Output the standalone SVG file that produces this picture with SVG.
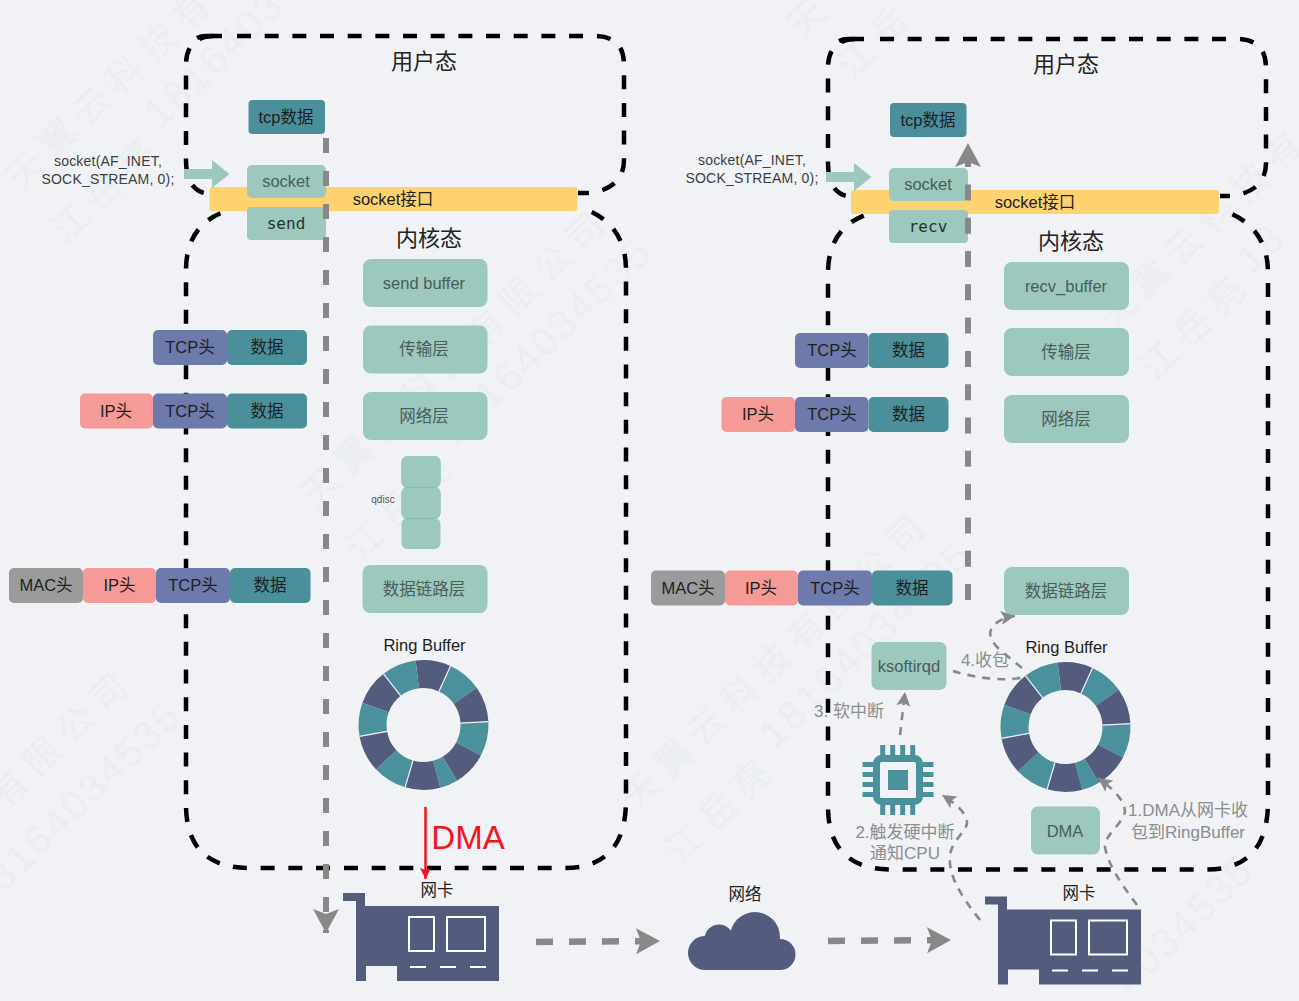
<svg xmlns="http://www.w3.org/2000/svg" width="1299" height="1001" viewBox="0 0 1299 1001">
<style>
text{font-family:"Liberation Sans","Noto Sans CJK SC",sans-serif;text-anchor:middle;fill:#1c1f22;font-size:16.5px}
.wm{font-family:"Noto Sans CJK SC",sans-serif;fill:#ebedf0;text-anchor:start;font-size:36px;letter-spacing:10px}
.wn{font-family:"Liberation Sans",sans-serif;fill:#ebedf0;text-anchor:start;font-size:40px;letter-spacing:3px}
.g{fill:#9cc8be}.gt{fill:#4a5d5a}
.d{fill:#4b8f9a}.t{fill:#6e7aab}.i{fill:#f59a96}.m{fill:#9b9b9b}.y{fill:#fdd26f}
.h{font-size:22px;fill:#222}
.mono{font-family:"DejaVu Sans Mono",monospace;fill:#26312f;font-size:16px}
.box{fill:none;stroke:#000;stroke-width:4.5;stroke-dasharray:14 13.67}
.gv{fill:none;stroke:#888;stroke-width:6;stroke-dasharray:15 18}
.gu{fill:none;stroke:#888;stroke-width:6;stroke-dasharray:16 17.300}
.gh{fill:none;stroke:#888;stroke-width:6.500;stroke-dasharray:17 16}
.th{fill:none;stroke:#888;stroke-width:2.600;stroke-dasharray:8 7}
.lb{fill:#8b8d8f;font-size:17px}
.api{font-size:14px;letter-spacing:.2px;fill:#3c3f42}
.nic{fill:#545c7e}
.nw{fill:none;stroke:#fff;stroke-width:2}
.dk{fill:#545c7e}
.tl{fill:#4b919b}
.sep{stroke:#eef1f3;stroke-width:1.200}
</style>
<defs>
<marker id="hg" markerUnits="userSpaceOnUse" markerWidth="26" markerHeight="28" refX="24" refY="14" orient="auto"><path d="M0 1L24 14L0 27L5 14Z" fill="#888"/></marker>
<marker id="ht" markerUnits="userSpaceOnUse" markerWidth="16" markerHeight="16" refX="14" refY="8" orient="auto"><path d="M0 1L14 8L0 15L3 8Z" fill="#888"/></marker>
<marker id="hr" markerUnits="userSpaceOnUse" markerWidth="12" markerHeight="12" refX="11" refY="6" orient="auto"><path d="M0 .5L11 6L0 11.5L2 6Z" fill="#f0141e"/></marker>
<g id="ringshape">
<path class="dk" d="M-7.900-64.500A65 65 0 0 1 27-59.100L15.400-33.600A37 37 0 0 0-4.500-36.700Z"/>
<path class="tl" d="M27-59.100A65 65 0 0 1 53.200-37.300L30.300-21.200A37 37 0 0 0 15.400-33.600Z"/>
<path class="dk" d="M53.200-37.300A65 65 0 0 1 64.900-3.400L37-1.900A37 37 0 0 0 30.300-21.200Z"/>
<path class="tl" d="M64.900-3.400A65 65 0 0 1 57.400 30.500L32.700 17.400A37 37 0 0 0 37-1.900Z"/>
<path class="dk" d="M57.400 30.500A65 65 0 0 1 33.500 55.700L19.100 31.700A37 37 0 0 0 32.700 17.400Z"/>
<path class="tl" d="M33.500 55.700A65 65 0 0 1 16.800 62.800L9.600 35.700A37 37 0 0 0 19.100 31.700Z"/>
<path class="dk" d="M16.800 62.800A65 65 0 0 1-18.400 62.300L-10.500 35.500A37 37 0 0 0 9.600 35.700Z"/>
<path class="tl" d="M-18.400 62.300A65 65 0 0 1-47.500 44.300L-27.100 25.200A37 37 0 0 0-10.500 35.500Z"/>
<path class="dk" d="M-47.500 44.300A65 65 0 0 1-64 11.300L-36.400 6.400A37 37 0 0 0-27.100 25.200Z"/>
<path class="tl" d="M-64 11.300A65 65 0 0 1-61.100-22.200L-34.800-12.700A37 37 0 0 0-36.400 6.400Z"/>
<path class="dk" d="M-61.100-22.200A65 65 0 0 1-40-51.200L-22.800-29.200A37 37 0 0 0-34.800-12.700Z"/>
<path class="tl" d="M-40-51.200A65 65 0 0 1-7.900-64.500L-4.500-36.700A37 37 0 0 0-22.800-29.200Z"/>
<path class="sep" d="M27-59.100L15.400-33.600M64.900-3.400L37-1.900M-18.400 62.300L-10.500 35.500M-40-51.200L-22.800-29.200M-64 11.300L-36.400 6.400"/>
</g>
<g id="nicshape">
<path class="nic" d="M343 893H365V906H499V981H397V966H366V981H356V901H343Z"/>
<rect class="nw" x="409" y="917" width="25" height="34"/>
<rect class="nw" x="447" y="917" width="38" height="34"/>
<path class="nw" d="M410 967H426M440 967H456M470 967H486"/>
</g>
</defs>
<rect width="1299" height="1001" fill="#f0f2f5"/>
<g id="watermark">
<text class="wm" transform="translate(21 192) rotate(-44)">天翼云科技有</text>
<text class="wm" transform="translate(66 245) rotate(-44)">江岳亮</text>
<text class="wn" transform="translate(160 130) rotate(-44)">1816403</text>
<text class="wm" transform="translate(316 509) rotate(-44)">天翼云科技有限公司</text>
<text class="wm" transform="translate(361 562) rotate(-44)">江岳亮</text>
<text class="wn" transform="translate(455 447) rotate(-44)">18164034535</text>
<text class="wm" transform="translate(636 812) rotate(-44)">天翼云科技有限公司</text>
<text class="wm" transform="translate(681 865) rotate(-44)">江岳亮</text>
<text class="wn" transform="translate(775 750) rotate(-44)">18164034535</text>
<text class="wm" transform="translate(802 40) rotate(-44)">天</text>
<text class="wm" transform="translate(852 80) rotate(-44)">江岳</text>
<text class="wm" transform="translate(1113 332) rotate(-44)">天翼云科技有</text>
<text class="wm" transform="translate(1155 382) rotate(-44)">江岳亮</text>
<text class="wn" transform="translate(1252 275) rotate(-44)">18</text>
<text class="wm" transform="translate(5 810) rotate(-44)">有限公司</text>
<text class="wn" transform="translate(3 893) rotate(-44)">8164034535</text>
<text class="wn" transform="translate(1130 995) rotate(-44)">4034535</text>
</g>
<g id="region-boxes">
<path class="box" d="M237 36H595Q624 36 624 65V160Q624 188 590 193H578"/>
<path class="box" style="stroke-dasharray:none" d="M222 36H206Q201 36 197 38"/>
<path class="box" d="M222 36H215Q186 36 186 65V160Q186 188 204 193" stroke-dashoffset="18.670"/>
<path class="box" d="M344 868H565Q626 868 626 800V270Q626 225 585 209"/>
<path class="box" d="M330 868H250Q186 868 186 805V270Q186 225 226 211"/>
<path class="box" d="M880 39H1237Q1266 39 1266 68V163Q1266 191 1232 196H1220"/>
<path class="box" style="stroke-dasharray:none" d="M864 39H848Q843 39 839 41"/>
<path class="box" d="M864 39H857Q828 39 828 68V163Q828 191 846 196" stroke-dashoffset="18.670"/>
<path class="box" d="M986 869.500H1207Q1268 869.500 1268 801.500V273Q1268 228 1227 212"/>
<path class="box" d="M972 869.500H892Q828 869.500 828 806.500V273Q828 228 868 214"/>
</g>
<g id="label-user-left"><text class="h" x="424" y="69">用户态</text></g>
<g id="label-user-right"><text class="h" x="1066" y="72">用户态</text></g>
<g id="socket-bar-left"><rect class="y" x="209.500" y="187" width="368" height="24" rx="3"/><text x="393" y="205">socket接口</text></g>
<g id="socket-bar-right"><rect class="y" x="851" y="190" width="368" height="24" rx="3"/><text x="1035" y="208">socket接口</text></g>
<g id="label-kernel-left"><text class="h" x="429" y="246">内核态</text></g>
<g id="label-kernel-right"><text class="h" x="1071" y="249">内核态</text></g>
<g id="tcpdata-left"><rect class="d" x="248.500" y="100" width="76.500" height="34" rx="4"/><text x="286" y="123">tcp数据</text></g>
<g id="socket-left"><rect class="g" x="247" y="165" width="79" height="33" rx="5"/><text class="gt" x="286" y="187">socket</text></g>
<g id="send-left"><rect class="g" x="247" y="207" width="79" height="33" rx="4"/><text class="mono" x="286" y="229">send</text></g>
<g id="tcpdata-right"><rect class="d" x="890" y="103" width="76.500" height="34" rx="4"/><text x="928" y="126">tcp数据</text></g>
<g id="socket-right"><rect class="g" x="889" y="168" width="79" height="33" rx="5"/><text class="gt" x="928" y="190">socket</text></g>
<g id="recv-right"><rect class="g" x="889" y="210" width="79" height="33" rx="4"/><text class="mono" x="928" y="232">recv</text></g>
<g id="sendbuffer"><rect class="g" x="363" y="259" width="124.500" height="48" rx="8"/><text class="gt" x="424" y="289">send buffer</text></g>
<g id="transport-left"><rect class="g" x="363" y="325.500" width="124.500" height="48" rx="8"/><text class="gt" x="424" y="355">传输层</text></g>
<g id="network-left"><rect class="g" x="363" y="392" width="124.500" height="48" rx="8"/><text class="gt" x="424" y="422">网络层</text></g>
<g id="qdisc">
<rect class="g" x="401.500" y="518" width="39" height="31" rx="6"/>
<rect x="401.500" y="487" width="39" height="32" rx="6" fill="#86baae"/>
<rect class="g" x="401.500" y="487" width="39" height="31" rx="6"/>
<rect x="401.500" y="456" width="39" height="32" rx="6" fill="#86baae"/>
<rect class="g" x="401.500" y="456" width="39" height="31" rx="6"/>
<text x="383" y="503" style="font-size:10px;fill:#555">qdisc</text>
</g>
<g id="link-left"><rect class="g" x="362.500" y="565" width="125" height="48" rx="8"/><text class="gt" x="424" y="595">数据链路层</text></g>
<g id="recvbuffer"><rect class="g" x="1004" y="262" width="125" height="48" rx="8"/><text class="gt" x="1066" y="292">recv_buffer</text></g>
<g id="transport-right"><rect class="g" x="1004" y="328" width="125" height="48" rx="8"/><text class="gt" x="1066" y="358">传输层</text></g>
<g id="network-right"><rect class="g" x="1004" y="395" width="125" height="48" rx="8"/><text class="gt" x="1066" y="425">网络层</text></g>
<g id="link-right"><rect class="g" x="1004" y="567" width="125" height="48" rx="8"/><text class="gt" x="1066" y="597">数据链路层</text></g>
<g id="ksoftirqd"><rect class="g" x="871.500" y="642" width="75" height="48" rx="7"/><text class="gt" x="909" y="672">ksoftirqd</text></g>
<g id="dma-box"><rect class="g" x="1031" y="806.500" width="69" height="48" rx="7"/><text class="gt" x="1065" y="837">DMA</text></g>
<g id="hdr-tcp-l1"><rect class="t" x="153" y="330" width="74" height="35" rx="5"/><text x="190" y="353">TCP头</text></g>
<g id="hdr-data-l1"><rect class="d" x="227" y="330" width="80" height="35" rx="5"/><text x="267" y="353">数据</text></g>
<g id="hdr-ip-l2"><rect class="i" x="80" y="393.500" width="73" height="35" rx="5"/><text x="116" y="417">IP头</text></g>
<g id="hdr-tcp-l2"><rect class="t" x="153" y="393.500" width="74" height="35" rx="5"/><text x="190" y="417">TCP头</text></g>
<g id="hdr-data-l2"><rect class="d" x="227" y="393.500" width="80" height="35" rx="5"/><text x="267" y="417">数据</text></g>
<g id="hdr-mac-l3"><rect class="m" x="9" y="568" width="74" height="35" rx="5"/><text x="46" y="591">MAC头</text></g>
<g id="hdr-ip-l3"><rect class="i" x="83" y="568" width="73" height="35" rx="5"/><text x="119.500" y="591">IP头</text></g>
<g id="hdr-tcp-l3"><rect class="t" x="156" y="568" width="74" height="35" rx="5"/><text x="193" y="591">TCP头</text></g>
<g id="hdr-data-l3"><rect class="d" x="230" y="568" width="80.500" height="35" rx="5"/><text x="270" y="591">数据</text></g>
<g id="hdr-tcp-r1"><rect class="t" x="795" y="333" width="73.500" height="35" rx="5"/><text x="832" y="356">TCP头</text></g>
<g id="hdr-data-r1"><rect class="d" x="868.500" y="333" width="80" height="35" rx="5"/><text x="908.500" y="356">数据</text></g>
<g id="hdr-ip-r2"><rect class="i" x="721.500" y="397" width="73.500" height="35" rx="5"/><text x="758" y="420">IP头</text></g>
<g id="hdr-tcp-r2"><rect class="t" x="795" y="397" width="73.500" height="35" rx="5"/><text x="832" y="420">TCP头</text></g>
<g id="hdr-data-r2"><rect class="d" x="868.500" y="397" width="80" height="35" rx="5"/><text x="908.500" y="420">数据</text></g>
<g id="hdr-mac-r3"><rect class="m" x="651" y="570.500" width="74" height="35" rx="5"/><text x="688" y="594">MAC头</text></g>
<g id="hdr-ip-r3"><rect class="i" x="725" y="570.500" width="73" height="35" rx="5"/><text x="761" y="594">IP头</text></g>
<g id="hdr-tcp-r3"><rect class="t" x="798" y="570.500" width="74" height="35" rx="5"/><text x="835" y="594">TCP头</text></g>
<g id="hdr-data-r3"><rect class="d" x="872" y="570.500" width="80.500" height="35" rx="5"/><text x="912" y="594">数据</text></g>
<g id="api-left"><text class="api" x="108" y="166">socket(AF_INET,</text><text class="api" x="108" y="184">SOCK_STREAM, 0);</text></g>
<g id="api-right"><text class="api" x="752" y="165">socket(AF_INET,</text><text class="api" x="752" y="183">SOCK_STREAM, 0);</text></g>
<g id="api-arrow-left"><path d="M184 169H212V160L229.500 174L212 188V179H184Z" fill="#9cc8be"/></g>
<g id="api-arrow-right"><path d="M826 172H854V163L871.500 177L854 191V182H826Z" fill="#9cc8be"/></g>
<g id="ring-left"><text x="424.500" y="651">Ring Buffer</text><use href="#ringshape" transform="translate(423.500 725)"/></g>
<g id="ring-right"><text x="1066.500" y="653">Ring Buffer</text><use href="#ringshape" transform="translate(1065.500 727)"/></g>
<g id="cpu" fill="#4b919b">
<rect x="876.500" y="758.500" width="43" height="43" rx="5" fill="none" stroke="#4b919b" stroke-width="7"/>
<rect x="888" y="770" width="20" height="20"/>
<path d="M882.700 745v12M892.700 745v12M902.700 745v12M912.700 745v12M882.700 803v12M892.700 803v12M902.700 803v12M912.700 803v12M862.500 764.500h12M862.500 774.500h12M862.500 784.500h12M862.500 794.500h12M921.500 764.500h12M921.500 774.500h12M921.500 784.500h12M921.500 794.500h12" stroke="#4b919b" stroke-width="5"/>
</g>
<g id="nic-left"><text x="437" y="896">网卡</text><use href="#nicshape"/></g>
<g id="nic-right"><text x="1079" y="899">网卡</text><use href="#nicshape" transform="translate(642 3.500)"/></g>
<g id="cloud"><text x="745" y="900">网络</text>
<g class="nic"><circle cx="755" cy="937" r="25"/><circle cx="719" cy="939" r="14.500"/><circle cx="705" cy="953" r="17"/><circle cx="780" cy="954.500" r="15.500"/><rect x="705" y="940" width="75" height="30"/></g></g>
<g id="connectors">
<path class="gv" d="M326 138V933" marker-end="url(#hg)"/>
<path class="gu" d="M968 600V143" marker-end="url(#hg)"/>
<path class="gh" d="M536 942L660 941" marker-end="url(#hg)"/>
<path class="gh" d="M828 941L951 940" marker-end="url(#hg)"/>
<path class="th" d="M900 735L905 692" marker-end="url(#ht)"/>
<path class="th" d="M953 671C975 678 1005 682 1024 677"/>
<path class="th" d="M1022 668L1000 650Q985 636 993 626Q1000 618 1015 616" marker-end="url(#ht)"/>
<path class="th" d="M980 920C960 895 948 875 950 855C952 840 968 830 967 822C966 812 955 803 942 795" marker-end="url(#ht)"/>
<path class="th" d="M1137 905C1122 885 1108 865 1105 847C1104 835 1122 825 1125 812C1125 800 1112 788 1098 778" marker-end="url(#ht)"/>
<path d="M425.500 807V879" stroke="#f0141e" stroke-width="2.500" fill="none" marker-end="url(#hr)"/>
</g>
<g id="labels">
<text class="lb" x="985" y="666">4.收包</text>
<text class="lb" x="849" y="717">3. 软中断</text>
<text class="lb" x="905" y="838">2.触发硬中断</text>
<text class="lb" x="905" y="859">通知CPU</text>
<text class="lb" x="1188" y="816">1.DMA从网卡收</text>
<text class="lb" x="1188" y="838">包到RingBuffer</text>
<text x="468" y="849" style="font-size:33px;fill:#f0141e">DMA</text>
</g>
</svg>
